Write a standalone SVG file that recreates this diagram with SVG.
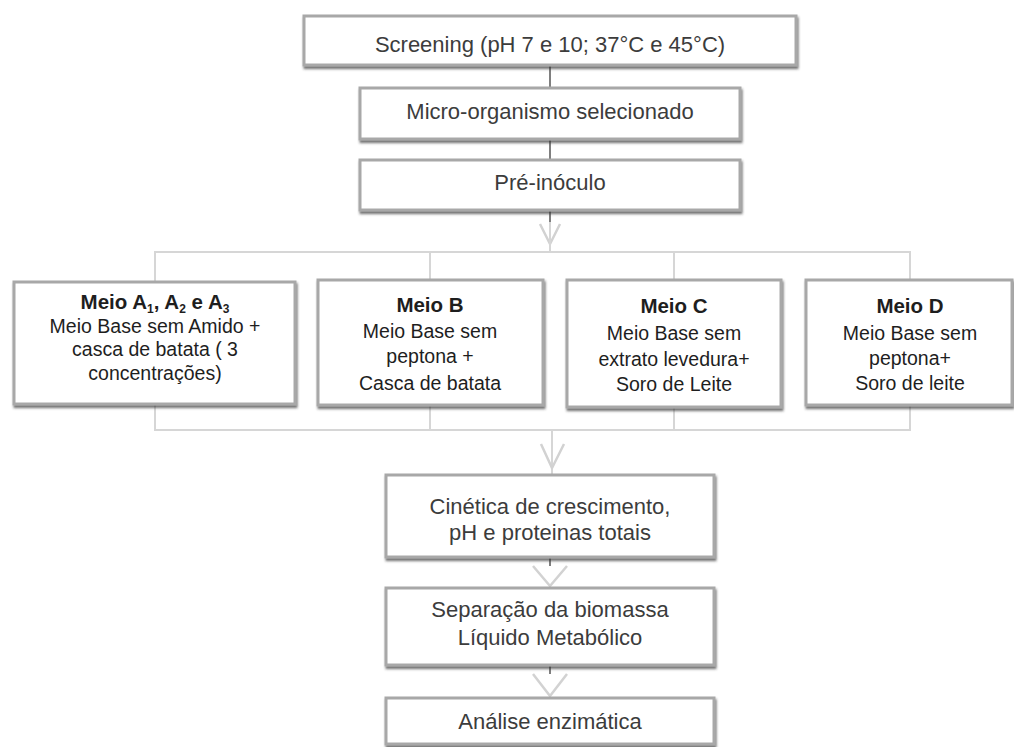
<svg xmlns="http://www.w3.org/2000/svg" width="1014" height="747" viewBox="0 0 1014 747">
  <defs>
    <filter id="sh" x="-5%" y="-10%" width="110%" height="130%">
      <feDropShadow dx="1" dy="2.5" stdDeviation="1.2" flood-color="#333" flood-opacity="0.7"/>
    </filter>
  </defs>
  <style>
    .box { fill: #ffffff; stroke: #a8a8a8; stroke-width: 3; filter: url(#sh); }
    .flow { font-family: "Liberation Sans", Arial, sans-serif; font-size: 22px; fill: #3c3c3c; text-anchor: middle; }
    .med { font-family: "Liberation Sans", Arial, sans-serif; font-size: 19.5px; fill: #1e1e1e; text-anchor: middle; }
    .hd { font-weight: bold; font-size: 20.5px; }
    .sub { font-size: 12px; }
    .dark { stroke: #555; stroke-width: 1.5; fill: none; }
    .faint { stroke: #d6d6d6; stroke-width: 2; fill: none; }
    .chev { stroke: #d2d2d2; stroke-width: 2.5; fill: none; stroke-linejoin: round; }
  </style>

  <g id="connectors">
    <line class="dark" x1="550" y1="65" x2="550" y2="88"/>
    <line class="dark" x1="550" y1="139" x2="550" y2="160"/>
    <line class="dark" x1="550" y1="210" x2="550" y2="222"/>
    <polyline class="chev" points="540,224 550,244 560,224"/>
    <line class="faint" x1="550" y1="222" x2="550" y2="252"/>
    <polyline class="faint" points="155,281 155,252 910,252 910,280"/>
    <line class="faint" x1="430" y1="252" x2="430" y2="280"/>
    <line class="faint" x1="674" y1="252" x2="674" y2="280"/>
    <polyline class="faint" points="155,404 155,430 910,430 910,405"/>
    <line class="faint" x1="430" y1="405" x2="430" y2="430"/>
    <line class="faint" x1="674" y1="407" x2="674" y2="430"/>
    <line class="faint" x1="552" y1="430" x2="552" y2="474"/>
    <polyline class="chev" points="541,444 552,468 564,444"/>
    <line class="dark" x1="550" y1="558" x2="550" y2="566"/>
    <polyline class="chev" points="533,566 550,586 567,566"/>
    <line class="dark" x1="550" y1="666" x2="550" y2="674"/>
    <polyline class="chev" points="533,674 550,696 567,674"/>
  </g>

  <g id="screening">
    <rect class="box" x="304" y="16" width="492" height="49"/>
    <text class="flow" x="550" y="52">Screening (pH 7 e 10; 37°C e 45°C)</text>
  </g>
  <g id="micro">
    <rect class="box" x="360" y="88" width="380" height="51"/>
    <text class="flow" x="550" y="119">Micro-organismo selecionado</text>
  </g>
  <g id="preinoculo">
    <rect class="box" x="360" y="160" width="380" height="50"/>
    <text class="flow" x="550" y="190">Pré-inóculo</text>
  </g>

  <g id="meioA">
    <rect class="box" x="14" y="282" width="281" height="122"/>
    <text class="med" x="155" y="309"><tspan class="hd">Meio A<tspan class="sub" dy="4">1</tspan><tspan dy="-4">, A</tspan><tspan class="sub" dy="4">2</tspan><tspan dy="-4"> e A</tspan><tspan class="sub" dy="4">3</tspan></tspan></text>
    <text class="med" x="155" y="333">Meio Base sem  Amido +</text>
    <text class="med" x="155" y="356">casca de batata ( 3</text>
    <text class="med" x="155" y="380">concentrações)</text>
  </g>
  <g id="meioB">
    <rect class="box" x="318" y="280" width="225" height="125"/>
    <text class="med hd" x="430" y="312">Meio B</text>
    <text class="med" x="430" y="338">Meio Base sem</text>
    <text class="med" x="430" y="363">peptona +</text>
    <text class="med" x="430" y="390">Casca de batata</text>
  </g>
  <g id="meioC">
    <rect class="box" x="567" y="280" width="214" height="127"/>
    <text class="med hd" x="674" y="313">Meio C</text>
    <text class="med" x="674" y="340">Meio Base sem</text>
    <text class="med" x="674" y="366">extrato levedura+</text>
    <text class="med" x="674" y="391">Soro de Leite</text>
  </g>
  <g id="meioD">
    <rect class="box" x="806" y="280" width="206" height="125"/>
    <text class="med hd" x="910" y="313">Meio D</text>
    <text class="med" x="910" y="340">Meio Base sem</text>
    <text class="med" x="910" y="365">peptona+</text>
    <text class="med" x="910" y="390">Soro de leite</text>
  </g>

  <g id="cinetica">
    <rect class="box" x="386" y="475" width="328" height="82"/>
    <text class="flow" x="550" y="514">Cinética de crescimento,</text>
    <text class="flow" x="550" y="540">pH e proteinas totais</text>
  </g>
  <g id="separacao">
    <rect class="box" x="386" y="588" width="328" height="77"/>
    <text class="flow" x="550" y="617">Separação da biomassa</text>
    <text class="flow" x="550" y="645">Líquido Metabólico</text>
  </g>
  <g id="analise">
    <rect class="box" x="386" y="698" width="328" height="46"/>
    <text class="flow" x="550" y="729">Análise enzimática</text>
  </g>
</svg>
